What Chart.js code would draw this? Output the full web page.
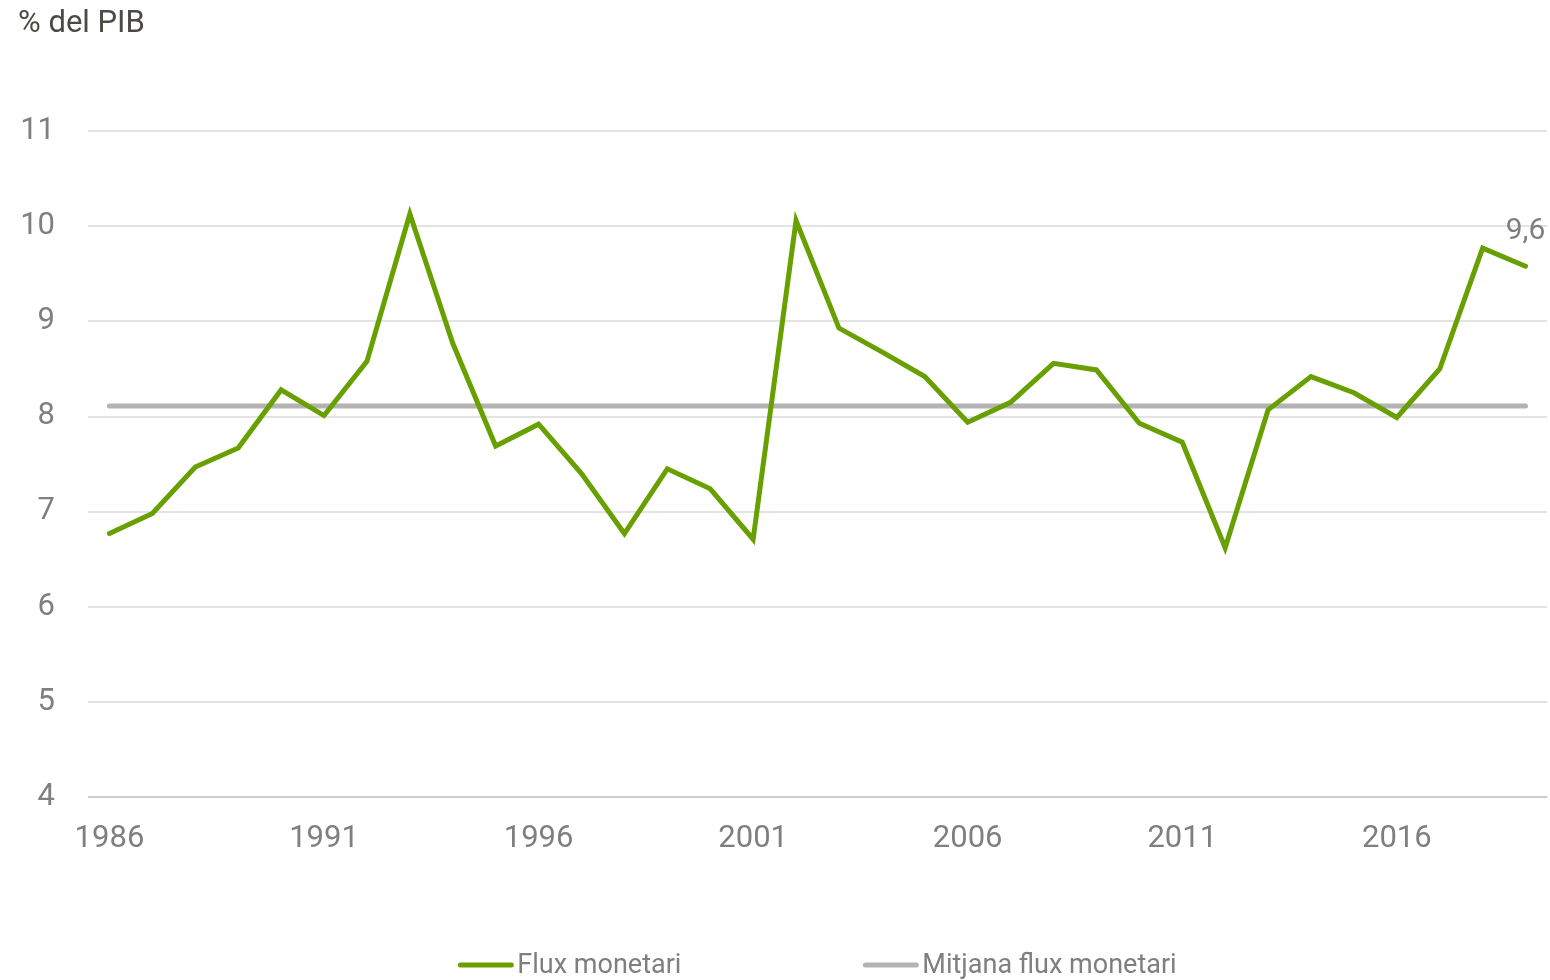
<!DOCTYPE html>
<html lang="ca">
<head>
<meta charset="utf-8">
<title>Flux monetari</title>
<script src="https://cdn.jsdelivr.net/npm/chart.js@4.4.1/dist/chart.umd.min.js"></script>
<style>
    html, body { margin: 0; padding: 0; background: #ffffff; }
    #wrap { width: 1550px; height: 980px; position: relative; }
</style>
</head>
<body>
<div id="wrap"><canvas id="grafic"></canvas></div>
<script>
// Dades
const anys = [1986, 1987, 1988, 1989, 1990, 1991, 1992, 1993, 1994, 1995,
              1996, 1997, 1998, 1999, 2000, 2001, 2002, 2003, 2004, 2005,
              2006, 2007, 2008, 2009, 2010, 2011, 2012, 2013, 2014, 2015,
              2016, 2017, 2018, 2019];
const fluxMonetari = [6.77, 6.98, 7.47, 7.67, 8.28, 8.01, 8.58, 10.13, 8.77, 7.69,
                      7.92, 7.40, 6.77, 7.45, 7.24, 6.71, 10.06, 8.93, 8.68, 8.42,
                      7.94, 8.15, 8.56, 8.49, 7.93, 7.73, 6.62, 8.07, 8.42, 8.25,
                      7.99, 8.50, 9.77, 9.58];
const mitjanaValor = 8.11;
const mitjanaFlux = anys.map(() => mitjanaValor);
const anysEtiqueta = [1986, 1991, 1996, 2001, 2006, 2011, 2016];
const ticksY = [4, 5, 6, 7, 8, 9, 10, 11];

const verd = '#67a000';
const gris = '#b3b3b3';
const colorText = '#7f7f7f';
const font = 'Roboto, "Liberation Sans", sans-serif';

document.addEventListener('DOMContentLoaded', function() {
    const canvas = document.getElementById('grafic');
    canvas.width = 1550;
    canvas.height = 980;

    // Etiqueta del darrer valor
    const darrerValor = {
        id: 'darrerValor',
        afterDatasetsDraw(chart) {
            const meta = chart.getDatasetMeta(0);
            const punt = meta.data[meta.data.length - 1];
            const valor = fluxMonetari[fluxMonetari.length - 1];
            const ctx = chart.ctx;
            ctx.save();
            ctx.font = '30px ' + font;
            ctx.fillStyle = colorText;
            ctx.textAlign = 'center';
            ctx.textBaseline = 'middle';
            ctx.fillText(valor.toFixed(1).replace('.', ','), punt.x, punt.y - 35);
            ctx.restore();
        }
    };

    // Llegenda a mida
    const llegenda = {
        id: 'llegenda',
        afterDraw(chart) {
            const ctx = chart.ctx;
            const area = chart.chartArea;
            const liniaAmple = 55;
            const separacio = 182;
            ctx.save();
            ctx.font = '27px ' + font;
            const items = chart.data.datasets.map(ds => ({
                text: ds.label,
                color: ds.borderColor,
                width: liniaAmple + 4 + ctx.measureText(ds.label).width
            }));
            const total = items.reduce((s, it) => s + it.width, 0) + separacio * (items.length - 1);
            let x = (area.left + area.right) / 2 - total / 2;
            const y = 965;
            items.forEach(it => {
                ctx.strokeStyle = it.color;
                ctx.lineWidth = 5;
                ctx.lineCap = 'round';
                ctx.beginPath();
                ctx.moveTo(x + 2, y);
                ctx.lineTo(x + liniaAmple - 2, y);
                ctx.stroke();
                ctx.fillStyle = colorText;
                ctx.textAlign = 'left';
                ctx.textBaseline = 'middle';
                ctx.fillText(it.text, x + liniaAmple + 4, y + 1);
                x += it.width + separacio;
            });
            ctx.restore();
        }
    };

    new Chart(canvas, {
        type: 'line',
        data: {
            labels: anys,
            datasets: [{
                label: 'Flux monetari',
                data: fluxMonetari,
                borderColor: verd,
                backgroundColor: verd,
                borderWidth: 5,
                borderCapStyle: 'round',
                borderJoinStyle: 'miter',
                pointRadius: 0,
                tension: 0
            }, {
                label: 'Mitjana flux monetari',
                data: mitjanaFlux,
                borderColor: gris,
                backgroundColor: gris,
                borderWidth: 5,
                borderCapStyle: 'round',
                pointRadius: 0,
                tension: 0
            }]
        },
        options: {
            responsive: false,
            animation: false,
            layout: { padding: { left: 18, right: 3, top: 0, bottom: 123 } },
            plugins: {
                legend: { display: false },
                tooltip: { enabled: false },
                title: {
                    display: true,
                    text: '% del PIB',
                    align: 'start',
                    color: '#4b4a44',
                    font: { family: font, size: 31, weight: 'normal' },
                    padding: { top: 6, bottom: 88 }
                }
            },
            scales: {
                x: {
                    offset: true,
                    grid: { display: false },
                    border: { display: false },
                    afterFit: scale => { scale.height = 60; },
                    ticks: {
                        autoSkip: false,
                        maxRotation: 0,
                        padding: 16,
                        color: colorText,
                        font: { family: font, size: 31 },
                        callback: function(val, i) {
                            const any = anys[i];
                            return anysEtiqueta.includes(any) ? String(any) : '';
                        }
                    }
                },
                y: {
                    min: 4,
                    max: 11,
                    afterFit: scale => { scale.width = 70; },
                    afterBuildTicks: scale => { scale.ticks = ticksY.map(v => ({ value: v })); },
                    border: { display: false },
                    grid: {
                        drawTicks: false,
                        lineWidth: 2,
                        color: ctx => ctx.tick && ctx.tick.value === 4 ? '#cccccc' : '#e3e3e3'
                    },
                    ticks: {
                        padding: 33,
                        color: colorText,
                        font: { family: font, size: 31 }
                    }
                }
            }
        },
        plugins: [darrerValor, llegenda]
    });
});
</script>
</body>
</html>
